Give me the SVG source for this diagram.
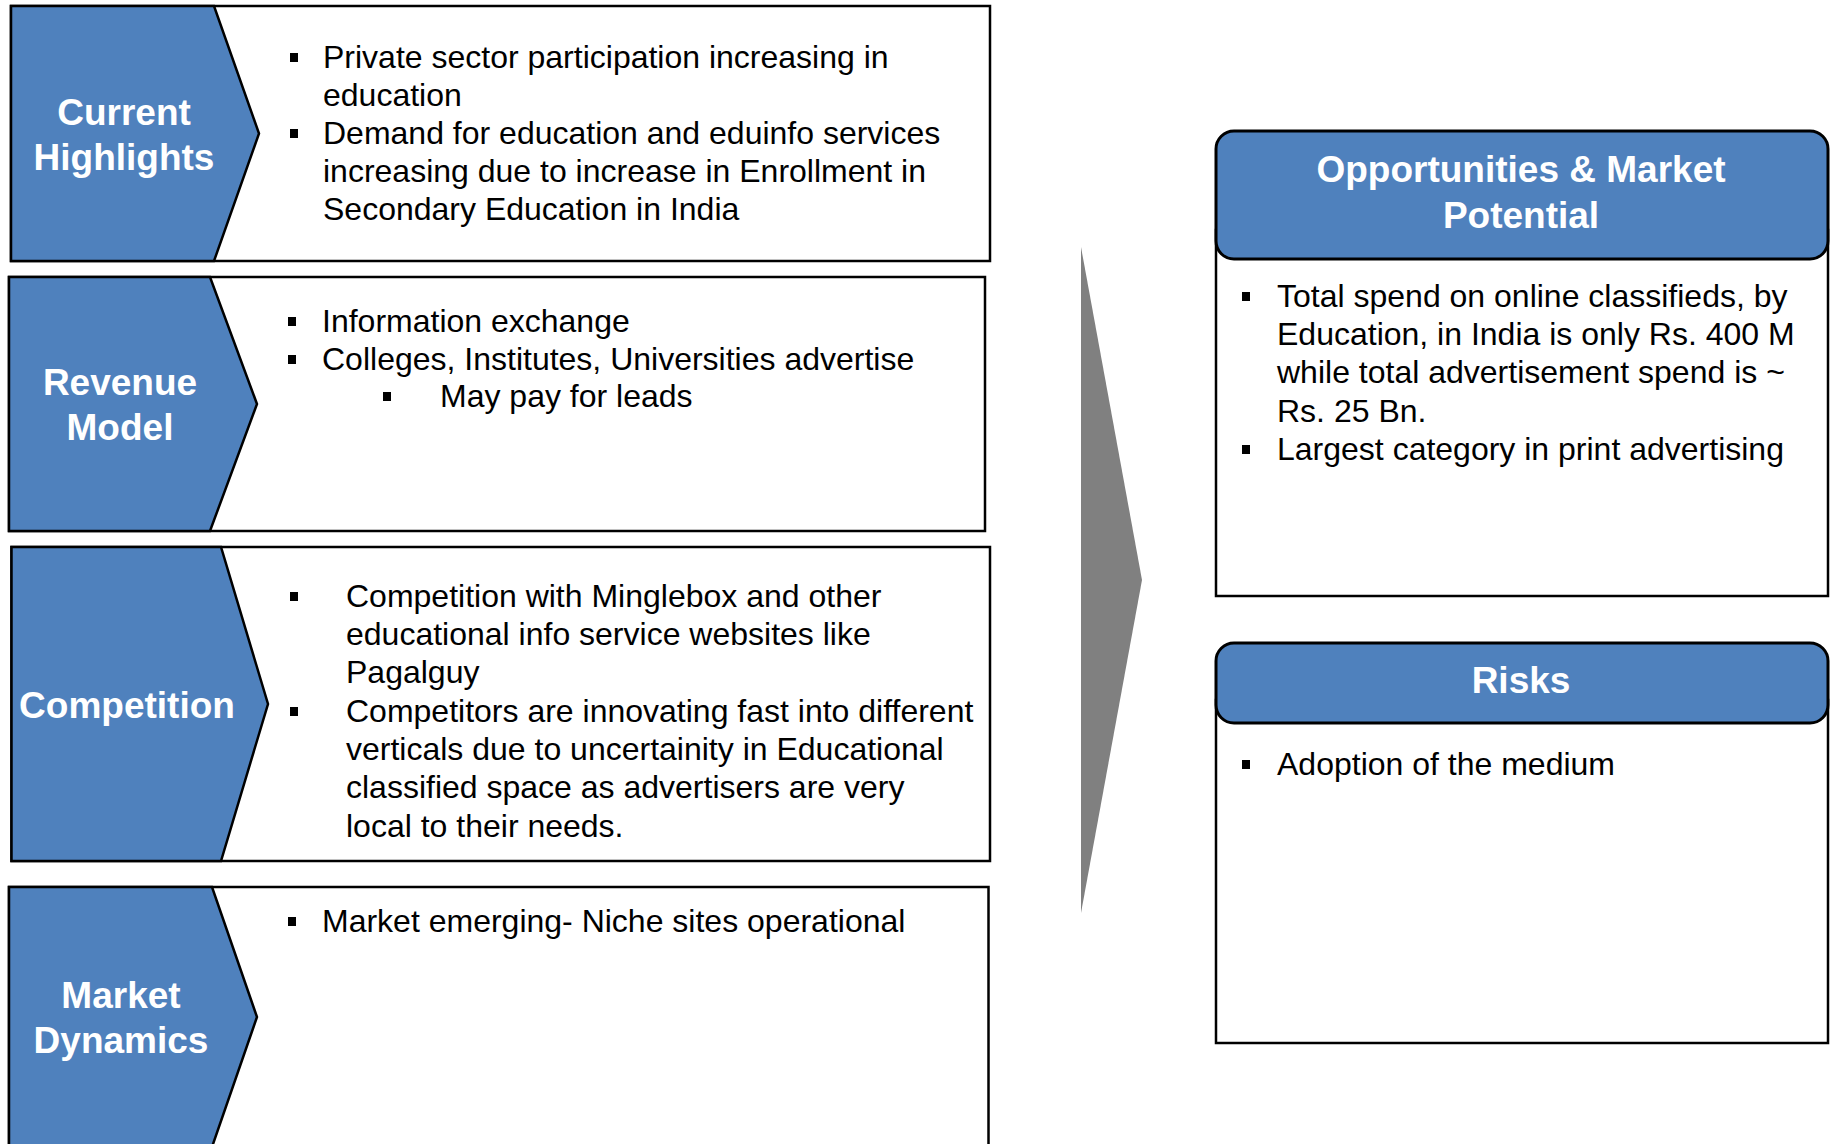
<svg xmlns="http://www.w3.org/2000/svg" width="1830" height="1144" viewBox="0 0 1830 1144">
<style>
.box{fill:#fff;stroke:#000;stroke-width:2.5}
.chev{fill:#4F81BD;stroke:#000;stroke-width:2.5;stroke-linejoin:miter}
.hdr{fill:#4F81BD;stroke:#000;stroke-width:3}
.lbl{font-family:"Liberation Sans",Arial,sans-serif;font-weight:bold;font-size:37px;fill:#fff;text-anchor:middle}
.t{font-family:"Liberation Sans",Arial,sans-serif;font-size:32px;fill:#000}
.b{fill:#000}
</style>
<rect width="1830" height="1144" fill="#fff"/>
<g id="connectors">
<polygon points="1081,247 1142,580 1081,913" fill="#808080"/>
</g>
<g id="current-highlights">
<rect class="box" x="11" y="6" width="979" height="255"/>
<polygon class="chev" points="11,6 214,6 259,133.5 214,261 11,261"/>
<text class="lbl" x="124" y="125">Current</text>
<text class="lbl" x="124" y="170">Highlights</text>
<rect class="b" x="290" y="53" width="8" height="9"/>
<text class="t" x="323" y="68">Private sector participation increasing in</text>
<text class="t" x="323" y="106">education</text>
<rect class="b" x="290" y="129" width="8" height="9"/>
<text class="t" x="323" y="144">Demand for education and eduinfo services</text>
<text class="t" x="323" y="182">increasing due to increase in Enrollment in</text>
<text class="t" x="323" y="220">Secondary Education in India</text>
</g>
<g id="revenue-model">
<rect class="box" x="9" y="277" width="976" height="254"/>
<polygon class="chev" points="9,277 210,277 257,404 210,531 9,531"/>
<text class="lbl" x="120" y="395">Revenue</text>
<text class="lbl" x="120" y="440">Model</text>
<rect class="b" x="288" y="317" width="8" height="9"/>
<text class="t" x="322" y="332">Information exchange</text>
<rect class="b" x="288" y="355" width="8" height="9"/>
<text class="t" x="322" y="370">Colleges, Institutes, Universities advertise</text>
<rect class="b" x="383" y="392" width="8" height="9"/>
<text class="t" x="440" y="407">May pay for leads</text>
</g>
<g id="competition">
<rect class="box" x="11.5" y="547" width="978.5" height="314"/>
<polygon class="chev" points="11.5,547 221,547 268,704 221,861 11.5,861"/>
<text class="lbl" x="127" y="718">Competition</text>
<rect class="b" x="290" y="592" width="8" height="9"/>
<text class="t" x="346" y="607">Competition with Minglebox and other</text>
<text class="t" x="346" y="645">educational info service websites like</text>
<text class="t" x="346" y="683">Pagalguy</text>
<rect class="b" x="290" y="707" width="8" height="9"/>
<text class="t" x="346" y="722">Competitors are innovating fast into different</text>
<text class="t" x="346" y="760">verticals due to uncertainity in Educational</text>
<text class="t" x="346" y="798">classified space as advertisers are very</text>
<text class="t" x="346" y="837">local to their needs.</text>
</g>
<g id="market-dynamics">
<rect class="box" x="9" y="887" width="979.5" height="260"/>
<polygon class="chev" points="9,887 212,887 257,1017 212,1147 9,1147"/>
<text class="lbl" x="121" y="1008">Market</text>
<text class="lbl" x="121" y="1053">Dynamics</text>
<rect class="b" x="288" y="917" width="8" height="9"/>
<text class="t" x="322" y="932">Market emerging- Niche sites operational</text>
</g>
<g id="opportunities">
<rect class="box" x="1216" y="230" width="612" height="366"/>
<rect class="hdr" x="1216" y="131" width="612" height="128" rx="18" ry="18"/>
<text class="lbl" x="1521" y="182">Opportunities &amp; Market</text>
<text class="lbl" x="1521" y="228">Potential</text>
<rect class="b" x="1242" y="292" width="8" height="9"/>
<text class="t" x="1277" y="307">Total spend on online classifieds, by</text>
<text class="t" x="1277" y="345">Education, in India is only Rs. 400 M</text>
<text class="t" x="1277" y="383">while total advertisement spend is ~</text>
<text class="t" x="1277" y="422">Rs. 25 Bn.</text>
<rect class="b" x="1242" y="445" width="8" height="9"/>
<text class="t" x="1277" y="460">Largest category in print advertising</text>
</g>
<g id="risks">
<rect class="box" x="1216" y="700" width="612" height="343"/>
<rect class="hdr" x="1216" y="643" width="612" height="80" rx="18" ry="18"/>
<text class="lbl" x="1521" y="693">Risks</text>
<rect class="b" x="1242" y="760" width="8" height="9"/>
<text class="t" x="1277" y="775">Adoption of the medium</text>
</g>
</svg>
